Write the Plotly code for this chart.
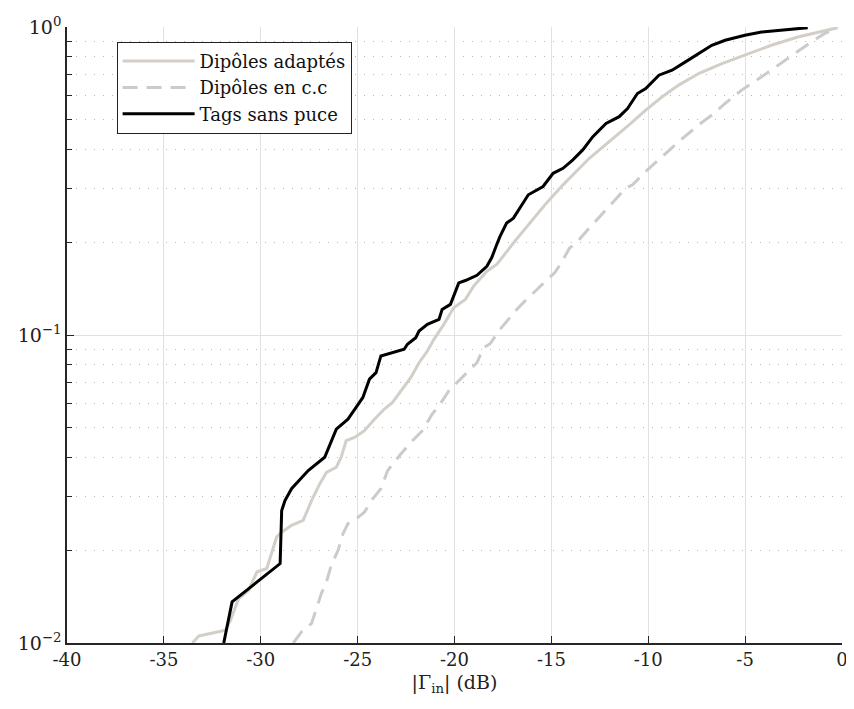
import plotly.graph_objects as go

# Tags sans puce (black)
tags_x = [-31.91, -31.48, -29.0, -28.92, -28.75, -28.41, -27.55, -26.70, -26.10, -25.50, -25.08, -24.73,
          -24.39, -24.05, -23.80, -22.60, -22.43, -22.0, -21.83, -21.40, -20.80, -20.64, -20.21, -19.78,
          -19.44, -18.84, -18.33, -18.07, -17.82, -17.65, -17.31, -16.96, -16.19, -15.43, -14.91, -14.40,
          -13.89, -13.38, -12.86, -12.18, -11.50, -11.07, -10.56, -10.13, -9.45, -8.77, -8.08, -7.40,
          -6.72, -6.03, -5.01, -4.15, -3.30, -1.77]
tags_y = [0.0100, 0.0136, 0.0181, 0.0269, 0.0290, 0.0317, 0.0363, 0.0401, 0.0495, 0.0533, 0.0582, 0.0627,
          0.0719, 0.0755, 0.0855, 0.0899, 0.0933, 0.098, 0.103, 0.1083, 0.1124, 0.121, 0.1257, 0.1476,
          0.1503, 0.1563, 0.1672, 0.1788, 0.1966, 0.2091, 0.2309, 0.2396, 0.2853, 0.3035, 0.335, 0.3478,
          0.3703, 0.399, 0.4406, 0.4864, 0.5115, 0.5439, 0.6082, 0.6314, 0.6976, 0.7242, 0.7704, 0.8196,
          0.8725, 0.9057, 0.940, 0.963, 0.9757, 0.995]

# Dipôles adaptés (light solid)
adapt_x = [-33.53, -33.19, -31.82, -31.56, -31.14, -30.62, -30.20, -29.69, -29.18, -28.92, -28.41, -27.81,
           -27.38, -26.95, -26.61, -26.10, -25.85, -25.59, -25.16, -24.65, -24.13, -23.62, -23.20, -22.77,
           -22.26, -21.83, -21.40, -21.06, -20.55, -20.04, -19.44, -19.01, -18.33, -17.82, -16.96, -15.26,
           -14.40, -13.04, -12.01, -10.99, -10.13, -9.28, -8.43, -7.40, -6.20, -5.01, -3.64, -2.28, -1.08, -0.23]
adapt_y = [0.0100, 0.01054, 0.0110, 0.01187, 0.01395, 0.01484, 0.0170, 0.01745, 0.0221, 0.0229, 0.0241, 0.0250,
           0.029, 0.0329, 0.0358, 0.0372, 0.0401, 0.0454, 0.0465, 0.0489, 0.0533, 0.0575, 0.0604, 0.0659,
           0.0727, 0.0813, 0.0887, 0.0968, 0.1083, 0.1226, 0.1305, 0.1441, 0.1611, 0.1694, 0.1989, 0.268,
           0.3073, 0.3748, 0.4245, 0.4807, 0.5374, 0.5934, 0.6476, 0.7063, 0.7606, 0.81, 0.8725, 0.928, 0.9684, 0.995]

# Dipôles en c.c (dashed)
cc_x = [-28.32, -27.89, -27.38, -27.21, -26.87, -26.61, -26.36, -26.01, -25.76, -25.50, -25.08, -24.65,
        -24.22, -23.80, -23.45, -22.77, -22.26, -21.66, -21.15, -20.80, -20.29, -19.87, -19.35, -18.84,
        -18.50, -18.16, -17.65, -17.31, -16.79, -16.37, -15.77, -15.34, -14.83, -14.49, -14.06, -13.72,
        -13.04, -12.01, -11.16, -10.81, -10.13, -9.28, -8.43, -7.40, -6.72, -6.03, -5.18, -4.15, -3.30,
        -2.45, -1.59, -0.91, -0.23]
cc_y = [0.0100, 0.01088, 0.01158, 0.01248, 0.01448, 0.0158, 0.01788, 0.0200, 0.0226, 0.0244, 0.0253, 0.0266,
        0.0294, 0.0317, 0.0363, 0.0411, 0.0448, 0.0489, 0.0554, 0.0589, 0.0659, 0.0701, 0.0755, 0.0813,
        0.091, 0.0937, 0.1043, 0.111, 0.121, 0.1288, 0.1405, 0.1487, 0.1591, 0.1714, 0.1917, 0.1989,
        0.2225, 0.2616, 0.2997, 0.3073, 0.3395, 0.3796, 0.4245, 0.4807, 0.518, 0.5646, 0.6239, 0.6889, 0.7517,
        0.8196, 0.894, 0.9513, 0.995]

x_ticks = [-40, -35, -30, -25, -20, -15, -10, -5, 0]
x_ticktext = ["-40", "-35", "-30", "-25", "-20", "-15", "-10", "-5", "0"]
y_ticks = [0.01, 0.1, 1]
y_ticktext = ["10<sup>−2</sup>", "10<sup>−1</sup>", "10<sup>0</sup>"]
y_minor = [0.02, 0.03, 0.04, 0.05, 0.06, 0.07, 0.08, 0.09,
           0.2, 0.3, 0.4, 0.5, 0.6, 0.7, 0.8, 0.9]

FONT = "DejaVu Serif"

fig = go.Figure()
fig.add_trace(go.Scatter(x=adapt_x, y=adapt_y, mode="lines", name="Dipôles adaptés",
                         line=dict(color="#d3cfc8", width=3)))
fig.add_trace(go.Scatter(x=cc_x, y=cc_y, mode="lines", name="Dipôles en c.c",
                         line=dict(color="#cbcbcb", width=3, dash="15px,9px")))
fig.add_trace(go.Scatter(x=tags_x, y=tags_y, mode="lines", name="Tags sans puce",
                         line=dict(color="#000000", width=3)))

fig.update_layout(
    width=846, height=701,
    margin=dict(l=59, r=6, t=17, b=66),
    paper_bgcolor="white", plot_bgcolor="white",
    font=dict(family=FONT, size=19, color="#222222"),
    showlegend=True,
    legend=dict(x=0.064, y=0.976, xanchor="left", yanchor="top",
                bgcolor="white", bordercolor="#222222", borderwidth=1,
                font=dict(family=FONT, size=18, color="#111111"),
                itemwidth=72, tracegroupgap=0),
    xaxis=dict(range=[-40, 0], tickvals=x_ticks, ticktext=x_ticktext,
               tickfont=dict(family=FONT, size=18), ticklabeloverflow="allow",
               showgrid=True, gridcolor="#e1e1e1", gridwidth=1,
               showline=True, linecolor="#262626", linewidth=1.5, mirror=False,
               ticks="inside", ticklen=7, tickcolor="#262626",
               zeroline=False,
               title=dict(text="|Γ<sub>in</sub>| (dB)", font=dict(family=FONT, size=19), standoff=6)),
    yaxis=dict(type="log", range=[-2, 0], tickvals=y_ticks, ticktext=y_ticktext,
               tickfont=dict(family=FONT, size=19), ticklabeloverflow="allow",
               showgrid=True, gridcolor="#e1e1e1", gridwidth=1,
               showline=True, linecolor="#262626", linewidth=1.5, mirror=False,
               ticks="inside", ticklen=7, tickcolor="#262626",
               zeroline=False,
               minor=dict(tickmode="array", tickvals=y_minor,
                          ticks="inside", ticklen=5, tickcolor="#262626",
                          showgrid=True, gridcolor="#b8b8b8", griddash="1px,8px", gridwidth=1)),
)

fig.write_html("out.html")
